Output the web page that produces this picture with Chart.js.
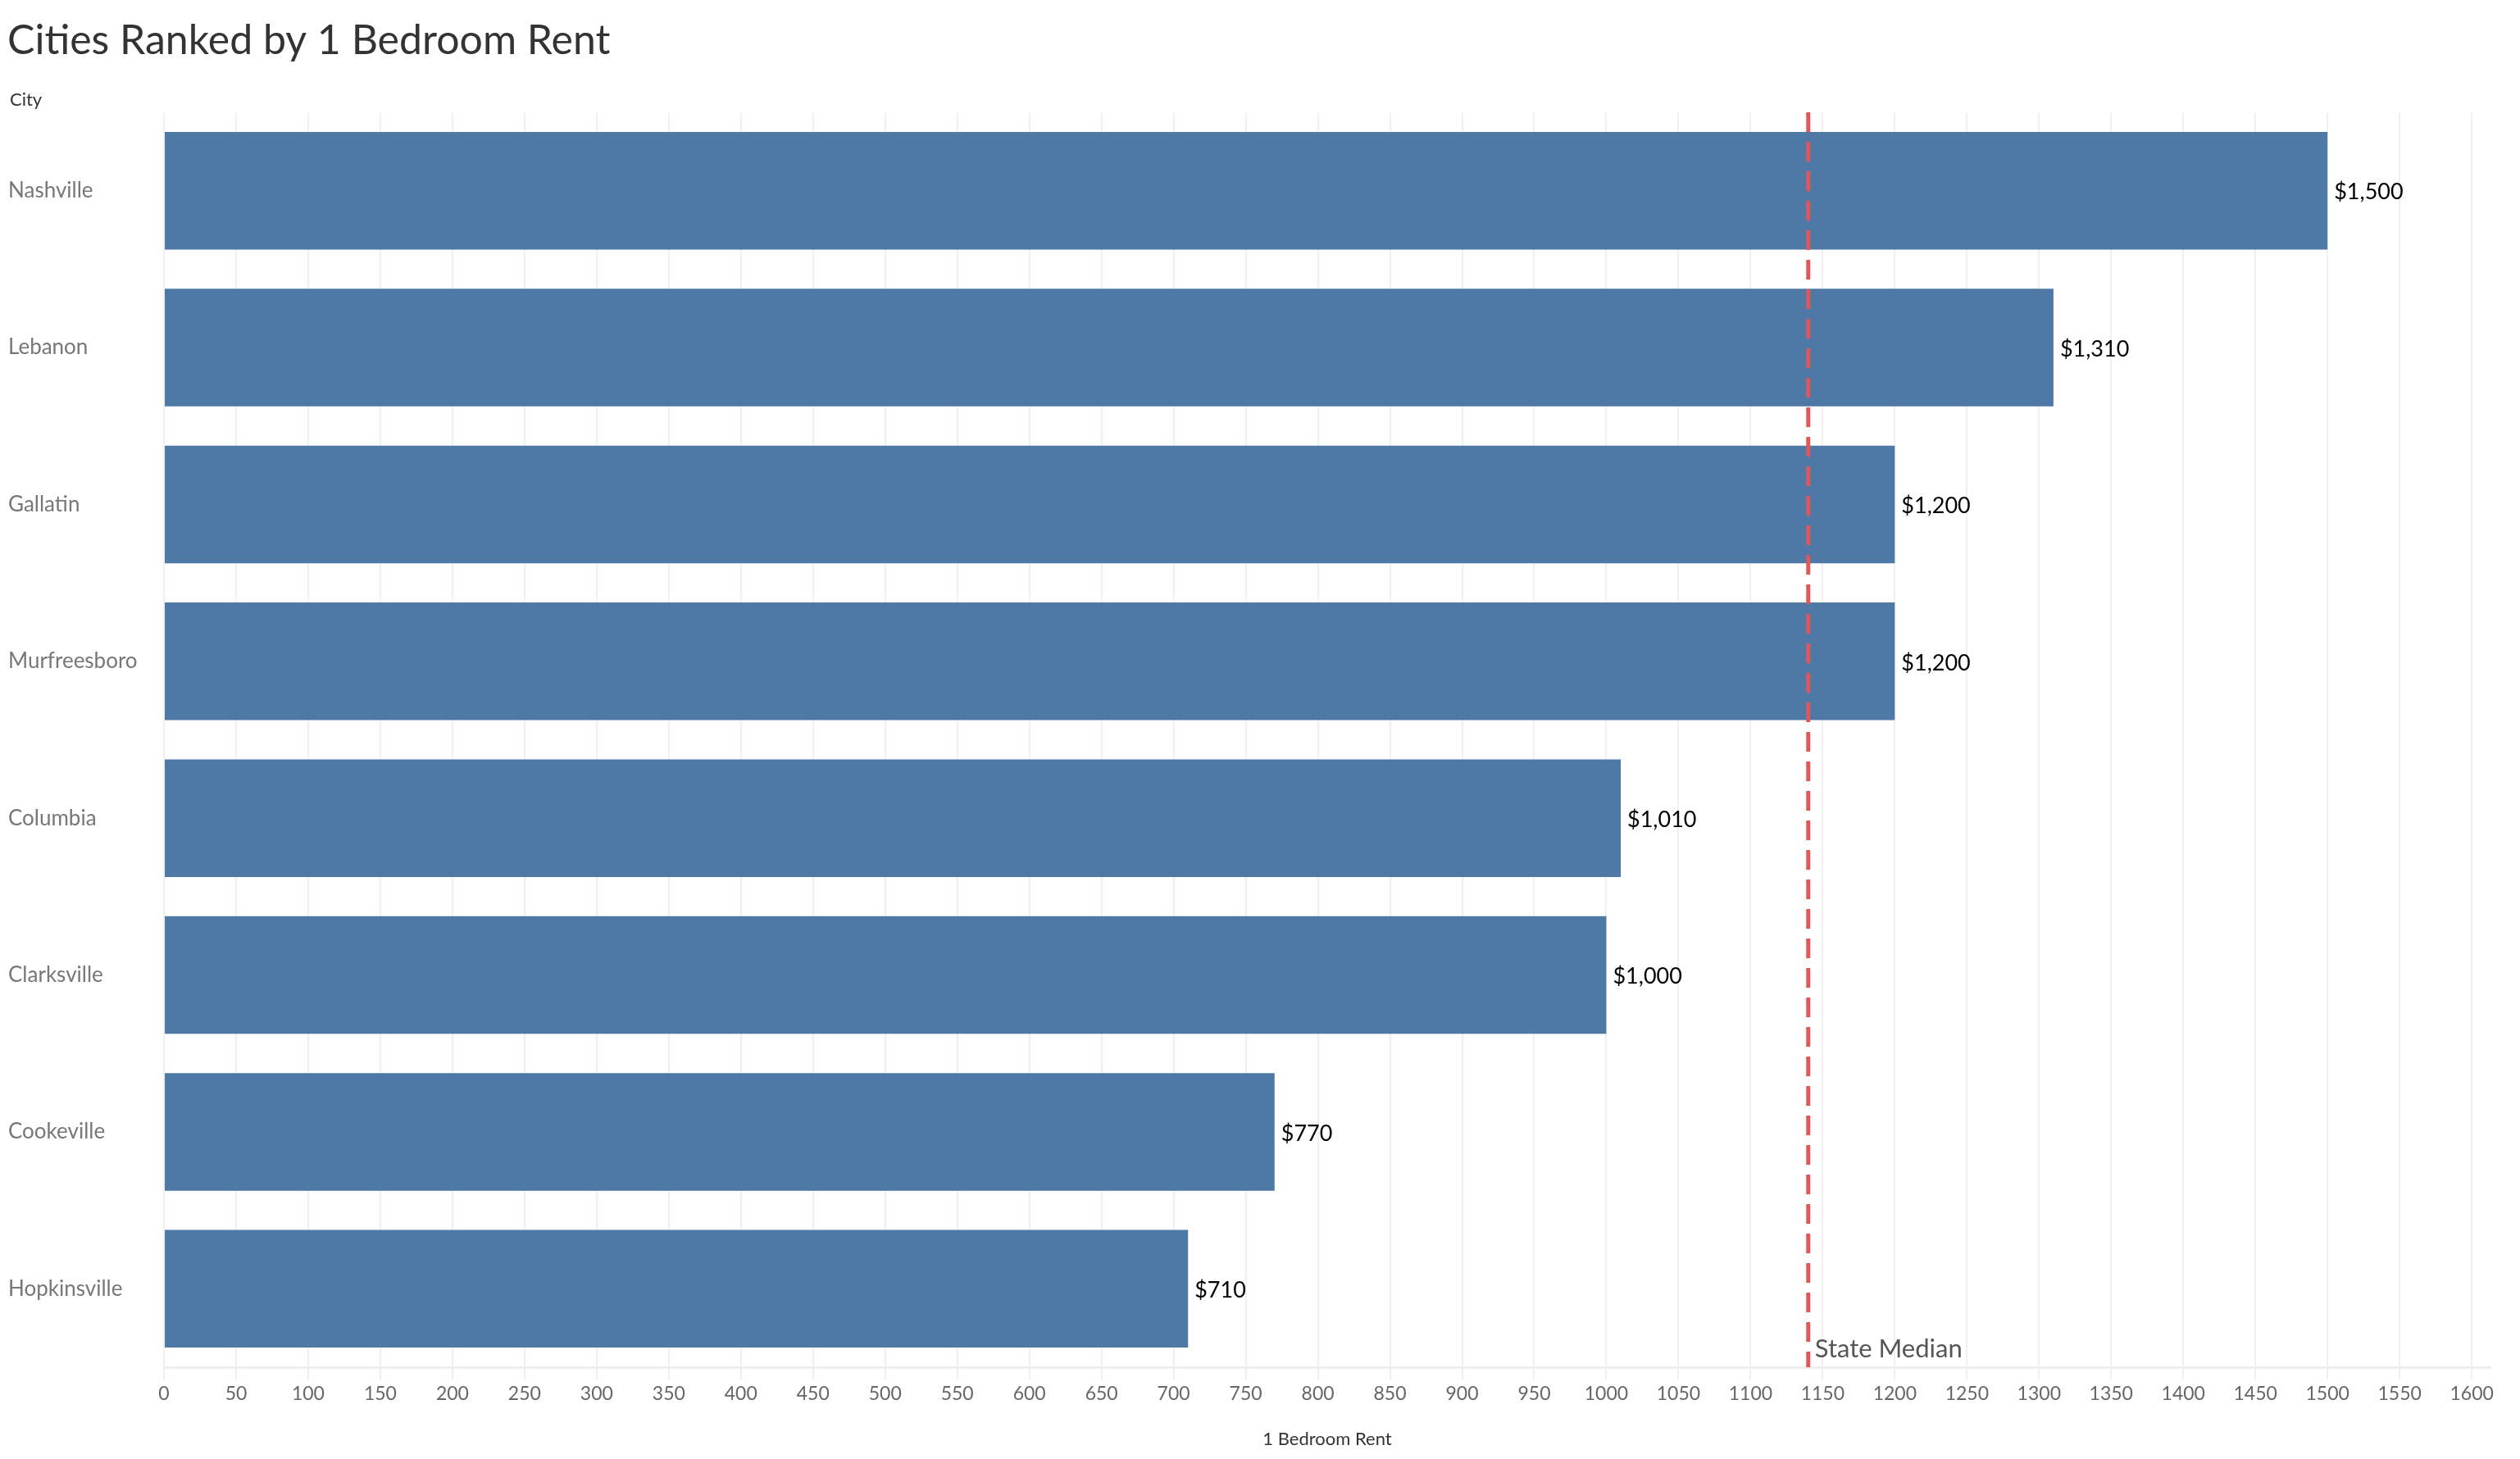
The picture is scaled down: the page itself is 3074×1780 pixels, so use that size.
<!DOCTYPE html>
<html>
<head>
<meta charset="utf-8">
<script src="https://cdn.jsdelivr.net/npm/chart.js@4/dist/chart.umd.min.js"></script>
<style>
  html, body { margin: 0; padding: 0; background: #fff; }
  #wrap { width: 3074px; height: 1780px; }
</style>
</head>
<body>
<div id="wrap"><canvas id="rentChart"></canvas></div>
<script>
// data
const cities = ['Nashville', 'Lebanon', 'Gallatin', 'Murfreesboro', 'Columbia', 'Clarksville', 'Cookeville', 'Hopkinsville'];
const rents = [1500, 1310, 1200, 1200, 1010, 1000, 770, 710];
const stateMedian = 1140;
const xTickValues = [0, 50, 100, 150, 200, 250, 300, 350, 400, 450, 500, 550, 600, 650, 700, 750,
    800, 850, 900, 950, 1000, 1050, 1100, 1150, 1200, 1250, 1300, 1350, 1400, 1450, 1500, 1550, 1600];
const axisMax = 1613;

const FONT = 'Lato, "Noto Sans", sans-serif';

// title, "City" header, bar value labels and the median line
const extras = {
    id: 'extras',
    afterDatasetsDraw(chart) {
        const ctx = chart.ctx;
        const x = chart.scales.x;
        const area = chart.chartArea;
        ctx.save();

        ctx.fillStyle = '#333';
        ctx.font = '50px ' + FONT;
        ctx.textBaseline = 'middle';
        ctx.textAlign = 'left';
        ctx.fillText('Cities Ranked by 1 Bedroom Rent', 9, 50);

        ctx.font = '22px ' + FONT;
        ctx.fillText('City', 12, 122);

        // value labels
        const meta = chart.getDatasetMeta(0);
        ctx.fillStyle = '#000';
        ctx.font = '27px ' + FONT;
        meta.data.forEach((bar, i) => {
            ctx.fillText('$' + rents[i].toLocaleString('en-US'), bar.x + 8, bar.y + 2);
        });

        // state median reference line
        const mx = x.getPixelForValue(stateMedian);
        ctx.strokeStyle = '#e15759';
        ctx.lineWidth = 5;
        ctx.setLineDash([24, 12]);
        ctx.beginPath();
        ctx.moveTo(mx, area.top);
        ctx.lineTo(mx, area.bottom);
        ctx.stroke();
        ctx.setLineDash([]);

        ctx.fillStyle = '#555';
        ctx.font = '31px ' + FONT;
        ctx.fillText('State Median', mx + 8, area.bottom - 22);
        ctx.restore();
    }
};

const ctx = document.getElementById('rentChart').getContext('2d');
new Chart(ctx, {
    type: 'bar',
    data: {
        labels: cities,
        datasets: [{
            data: rents,
            backgroundColor: '#4e79a7',
            borderWidth: 0,
            barPercentage: 1,
            categoryPercentage: 0.75
        }]
    },
    options: {
        indexAxis: 'y',
        responsive: true,
        maintainAspectRatio: false,
        animation: false,
        devicePixelRatio: 1,
        layout: { padding: { top: 137, left: 10, right: 36, bottom: 11 } },
        plugins: {
            legend: { display: false },
            tooltip: { enabled: false }
        },
        scales: {
            x: {
                min: 0,
                max: axisMax,
                afterBuildTicks(axis) {
                    axis.ticks = xTickValues.map(v => ({ value: v }));
                },
                ticks: {
                    callback: v => String(v),
                    color: '#666',
                    font: { family: FONT, size: 23 },
                    padding: 4,
                    maxRotation: 0,
                    autoSkip: false
                },
                grid: { color: '#f0f0f0', lineWidth: 2, tickLength: 15 },
                border: { color: '#eeeeee', width: 3 },
                title: {
                    display: true,
                    text: '1 Bedroom Rent',
                    color: '#333',
                    font: { family: FONT, size: 22 },
                    padding: { top: 24, bottom: 0 }
                }
            },
            y: {
                afterFit(axis) { axis.width = 190; },
                ticks: {
                    crossAlign: 'far',
                    color: '#777',
                    font: { family: FONT, size: 26 }
                },
                grid: { display: false },
                border: { display: false }
            }
        }
    },
    plugins: [extras]
});
</script>
</body>
</html>
